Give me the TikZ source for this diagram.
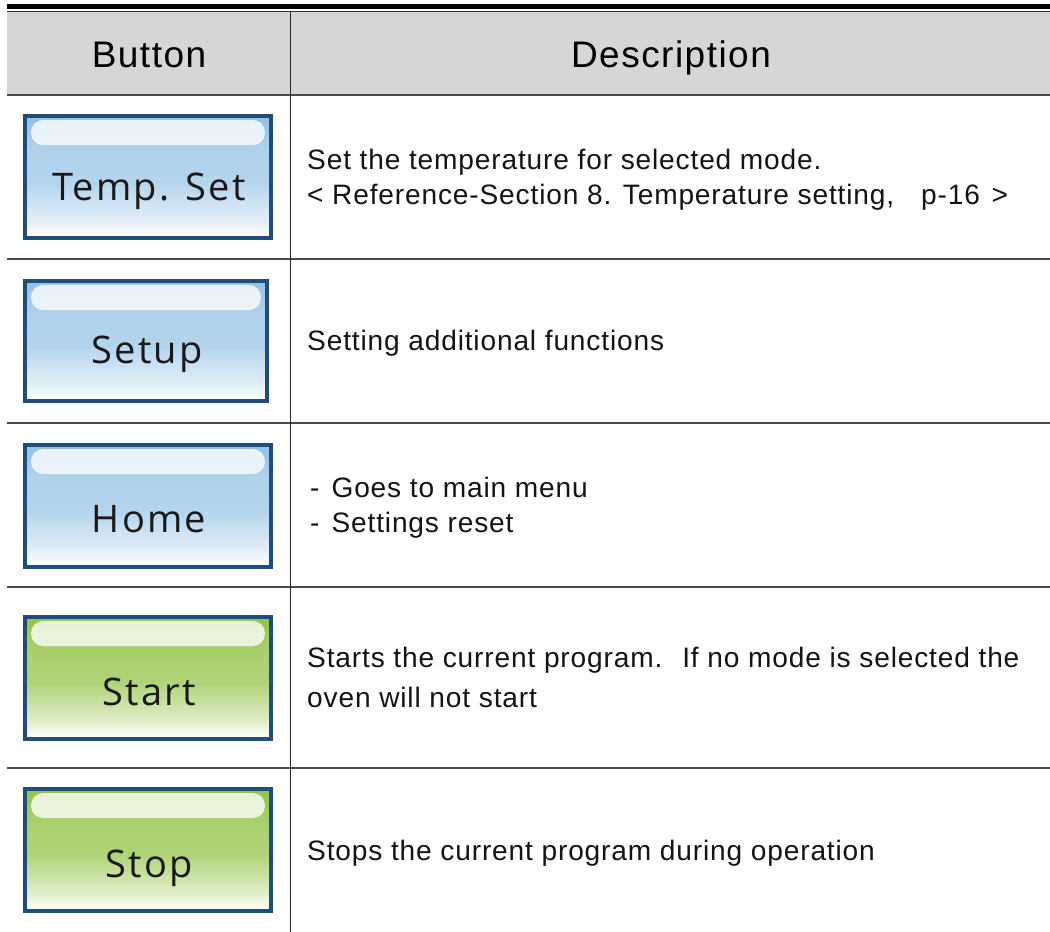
\documentclass[tikz,border=0pt]{standalone}
\usepackage{fontspec}
\setmainfont{Open Sans}
\newfontfamily\descfont[LetterSpace=3.0]{Liberation Sans}
\newfontfamily\headfont[LetterSpace=4.0]{Liberation Sans}
\newfontfamily\btnfont[LetterSpace=6.0]{Open Sans}
\definecolor{hdr}{HTML}{D6D6D6}
\definecolor{rule}{HTML}{4A4A4A}
\definecolor{frame}{HTML}{1F4E7E}
\definecolor{bluetop}{HTML}{8FC0E6}
\definecolor{bluemid}{HTML}{B4D4EC}
\definecolor{greentop}{HTML}{8CC53F}
\definecolor{greenmid}{HTML}{B0D478}
\pgfdeclareverticalshading{btnblue}{100bp}{color(0bp)=(white);color(26bp)=(white);color(33bp)=(white!60!bluemid);color(48bp)=(bluemid);color(62bp)=(bluemid!85!bluetop);color(75bp)=(bluetop);color(100bp)=(bluetop)}
\pgfdeclareverticalshading{btngreen}{100bp}{color(0bp)=(white);color(26bp)=(white);color(33bp)=(white!60!greenmid);color(48bp)=(greenmid);color(62bp)=(greenmid!75!greentop);color(75bp)=(greentop);color(100bp)=(greentop)}
\tikzset{
  hline/.style={draw=rule,line width=1.3pt},
  vline/.style={draw=black!85,line width=1.3pt},
  headtext/.style={font=\headfont\fontsize{37}{40}\selectfont,text=black,inner sep=0pt},
  desc/.style={font=\descfont\fontsize{28.1}{35}\selectfont,text=black!92,inner sep=0pt,anchor=base west},
  btntext/.style={font=\btnfont\fontsize{38}{40}\selectfont,text=black!90,inner sep=0pt,anchor=base},
  gloss/.style={fill=white,fill opacity=0.78,rounded corners=12pt},
  btnframe/.style={draw=frame,line width=3.6pt}
}
% name, left, top, right, bottom, shading, text, baseline
\newcommand{\btnbox}[8]{%
  \shade[shading=#6] (#2,#3) rectangle (#4,#5);
  \fill[gloss] (#2+8,#3+6) rectangle (#4-8,#3+31);
  \draw[btnframe] (#2+1.8,#3+1.8) rectangle (#4-1.8,#5-1.8);
  \node[btntext] (#1) at ({(#2+#4)/2+1},#8) {#7};
}
\begin{document}
\begin{tikzpicture}[x=1pt,y=-1pt]
\useasboundingbox (0,0) rectangle (1050,932);
\fill[white] (0,0) rectangle (1050,932);
% header
\fill[hdr] (7,12) rectangle (1050,95);
\fill[black] (7,4) rectangle (1050,8.5);
\draw[draw=black!80,line width=1pt] (7,11) -- (1050,11);
\draw[hline] (7,95) -- (1050,95);
\draw[hline] (7,259) -- (1050,259);
\draw[hline] (7,423) -- (1050,423);
\draw[hline] (7,587) -- (1050,587);
\draw[hline] (7,768) -- (1050,768);
\draw[vline] (290.5,11) -- (290.5,932);
\node[headtext,anchor=base] (h1) at (149,67) {Button};
\node[headtext,anchor=base] (h2) at (671,67) {Description};
% buttons
\btnbox{b1}{23}{114}{273}{240}{btnblue}{Temp. Set}{200}
\btnbox{b2}{23}{279}{269}{403}{btnblue}{Setup}{363}
\btnbox{b3}{23}{443}{273}{569}{btnblue}{Home}{532}
\btnbox{b4}{23}{615}{273}{741}{btngreen}{Start}{705}
\btnbox{b5}{23}{787}{273}{913}{btngreen}{Stop}{877}
% descriptions
\node[desc] (d1a) at (307,169.5) {Set the temperature for selected mode.};
\node[desc] (d1b) at (307,204.5) {< Reference-Section 8. Temperature setting,\hspace{27pt}p-16\hspace{3pt} >};
\node[desc] (d2) at (307,350.5) {Setting additional functions};
\node[desc] (d3a) at (310,497.5) {-\hspace{12pt}Goes to main menu};
\node[desc] (d3b) at (310,532.5) {-\hspace{12pt}Settings reset};
\node[desc] (d4a) at (307,667.5) {Starts the current program.\hspace{20pt}If no mode is selected the};
\node[desc] (d4b) at (307,707.5) {oven will not start};
\node[desc] (d5) at (307,860.5) {Stops the current program during operation};
\end{tikzpicture}
\end{document}
